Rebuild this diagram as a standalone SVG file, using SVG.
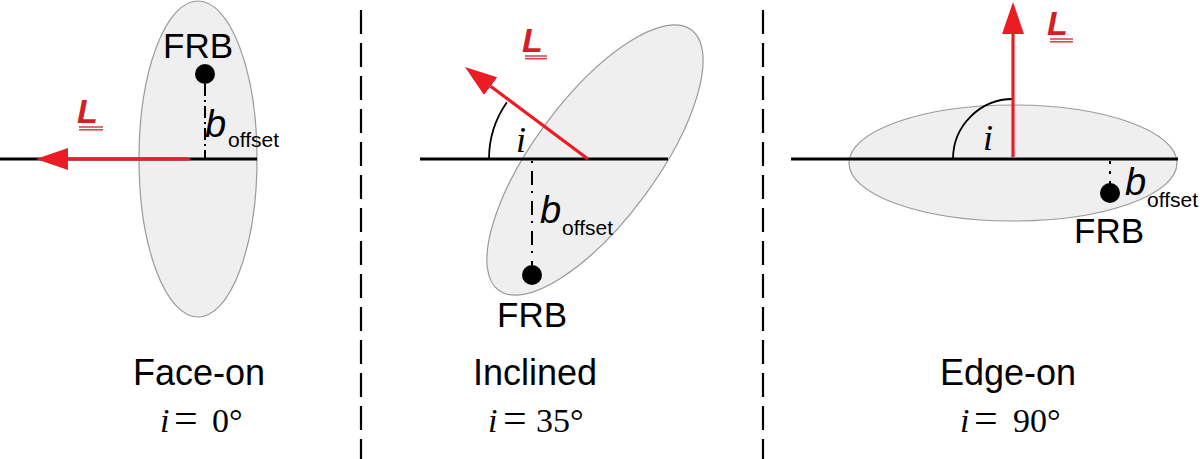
<svg xmlns="http://www.w3.org/2000/svg" width="1200" height="459" viewBox="0 0 1200 459">
<style>
.disk{fill:#efefef;stroke:#9a9a9a;stroke-width:1.2}
.axis{stroke:#000;stroke-width:3;fill:none}
.vec{stroke:#ec1c24;stroke-width:3.2;fill:none}
.arc{stroke:#000;stroke-width:1.8;fill:none}
.off{stroke:#000;stroke-width:2;fill:none}
.div{stroke:#000;stroke-width:2.2;stroke-dasharray:24 9;fill:none}
.dot{fill:#000}
.sans{font-family:"Liberation Sans",Arial,sans-serif;fill:#000}
.serif{font-family:"Liberation Serif","Times New Roman",serif;fill:#000}
.frb{font-size:35px;text-anchor:middle}
.b{font-size:38px;font-style:italic}
.sub{font-size:21px}
.Lv{font-family:"Liberation Sans",Arial,sans-serif;font-size:34px;font-weight:bold;font-style:italic;fill:#d41f26}
.ul{stroke:#d41f26;stroke-width:1.3}
.title{font-size:36px;text-anchor:middle}
.eq{font-size:34px}
.eqs{font-size:42px}
.ang{font-size:36px;font-style:italic}
</style>
<defs>
<marker id="ah" viewBox="0 0 32 22" refX="0" refY="11" markerWidth="32" markerHeight="22" markerUnits="userSpaceOnUse" orient="auto">
<path d="M0,0 L32,11 L0,22 z" fill="#ec1c24"/>
</marker>
</defs>

<g id="dividers">
<line class="div" x1="361" y1="10" x2="361" y2="459"/>
<line class="div" x1="763" y1="10" x2="763" y2="459"/>
</g>

<g id="face-on">
<ellipse class="disk" cx="198" cy="159" rx="59" ry="158"/>
<line class="axis" x1="0" y1="159" x2="257" y2="159"/>
<line class="off" x1="205" y1="84" x2="205" y2="158" stroke-dasharray="12 4 2 4"/>
<circle class="dot" cx="205" cy="74" r="10"/>
<text class="sans frb" x="198" y="58">FRB</text>
<text class="sans b" x="205" y="137">b</text>
<text class="sans sub" x="228" y="147">offset</text>
<text class="Lv" x="77" y="123">L</text>
<line class="ul" x1="79" y1="127" x2="103" y2="127"/>
<line class="ul" x1="79" y1="129.8" x2="103" y2="129.8"/>
<text class="sans title" x="199" y="385">Face-on</text>
<text class="serif eq" y="432"><tspan x="160" font-style="italic">i</tspan><tspan class="eqs" x="174">=</tspan><tspan x="212">0°</tspan></text>
</g>

<g id="inclined">
<ellipse class="disk" cx="0" cy="0" rx="61" ry="162" transform="translate(595 160) rotate(36.5)"/>
<line class="axis" x1="420" y1="159" x2="668" y2="159"/>
<path class="arc" d="M489,159 A99,99 0 0 1 506.9,102.2"/>
<line class="off" x1="532" y1="161" x2="532" y2="265" stroke-dasharray="2 8 14 6"/>
<circle class="dot" cx="532" cy="275" r="10"/>
<text class="serif ang" x="516" y="152">i</text>
<text class="sans frb" x="532" y="327">FRB</text>
<text class="sans b" x="540" y="223">b</text>
<text class="sans sub" x="562" y="235">offset</text>
<text class="Lv" x="522" y="52">L</text>
<line class="ul" x1="525" y1="56" x2="547" y2="56"/>
<line class="ul" x1="525" y1="58.8" x2="547" y2="58.8"/>
<text class="sans title" x="535" y="385">Inclined</text>
<text class="serif eq" y="432"><tspan x="488" font-style="italic">i</tspan><tspan class="eqs" x="503">=</tspan><tspan x="536">35°</tspan></text>
</g>

<g id="edge-on">
<ellipse class="disk" cx="1013" cy="163" rx="164" ry="58"/>
<line class="axis" x1="791" y1="159" x2="1178" y2="159"/>
<path class="arc" d="M953,159 A60,60 0 0 1 1013,99"/>
<line class="off" x1="1110" y1="161" x2="1110" y2="184" stroke-dasharray="3 7"/>
<circle class="dot" cx="1110" cy="193" r="10"/>
<text class="serif ang" x="983" y="150">i</text>
<text class="sans frb" x="1109" y="243">FRB</text>
<text class="sans b" x="1125" y="195" font-size="33">b</text>
<text class="sans sub" x="1147" y="207">offset</text>
<text class="Lv" x="1047" y="35">L</text>
<line class="ul" x1="1050" y1="39" x2="1073" y2="39"/>
<line class="ul" x1="1050" y1="41.8" x2="1073" y2="41.8"/>
<text class="sans title" x="1008" y="385">Edge-on</text>
<text class="serif eq" y="432"><tspan x="960" font-style="italic">i</tspan><tspan class="eqs" x="974">=</tspan><tspan x="1013">90°</tspan></text>
</g>

<g id="connectors">
<line class="vec" x1="190" y1="159" x2="68" y2="159" marker-end="url(#ah)"/>
<line class="vec" x1="588" y1="159" x2="490.6" y2="86.2" marker-end="url(#ah)"/>
<line class="vec" x1="1013" y1="157" x2="1013" y2="34" marker-end="url(#ah)"/>
</g>
</svg>
